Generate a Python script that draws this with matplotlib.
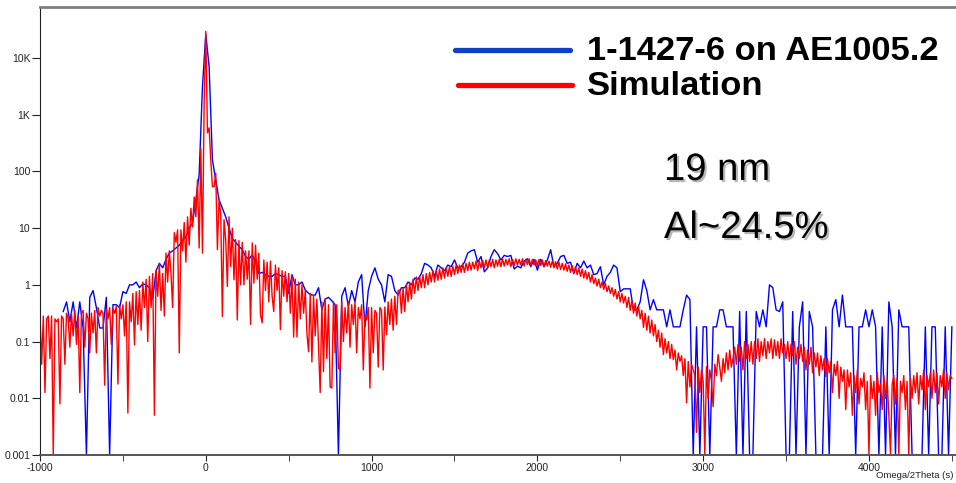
import numpy as np
import matplotlib
matplotlib.use('Agg')
import matplotlib.pyplot as plt
import matplotlib.patheffects as pe
from matplotlib.lines import Line2D
from matplotlib.ticker import FixedLocator, MultipleLocator

plt.rcParams['font.family'] = ['Liberation Sans', 'DejaVu Sans']

# measured scan, log10 of intensity, 20 arcsec steps from -860
meas_start, meas_step = -860, 20
meas_log = [
    -0.47, -0.30, -0.65, -0.30, -0.76, -0.30, -0.76, -3.00, -0.22, -0.10,
    -0.40, -0.76, -0.76, -0.22, -3.00, -0.35, -0.35, -0.40, -0.12, -0.15,
    0.00, 0.00, 0.05, -0.05, 0.02, 0.00, -0.05, -0.25, 0.25, 0.38,
    0.30, 0.45, 0.56, 0.60, 0.65, 0.70, 0.78, 0.85, 1.00, 1.09,
    1.50, 1.95, 3.50, 4.42, 3.85, 2.20, 1.85, 1.50, 1.35, 1.20,
    1.00, 0.82, 0.75, 0.68, 0.62, 0.50, 0.45, 0.53, 0.40, 0.20,
    0.22, 0.18, 0.15, 0.15, 0.20, 0.18, 0.15, 0.15, -0.15, 0.18,
    0.00, 0.00, 0.05, -0.09, -0.15, -0.18, -0.18, -0.05, -0.44, -0.25,
    -0.22, -0.28, -0.35, -3.00, -0.20, -0.05, -0.38, -0.10, -0.30, 0.05,
    0.18, -0.74, -0.10, 0.15, 0.30, 0.10, 0.00, -0.30, 0.18, 0.15,
    -0.10, -0.18, -0.05, -0.05, 0.05, 0.00, 0.12, 0.10, 0.20, 0.38,
    0.35, 0.30, 0.15, 0.35, 0.30, 0.25, 0.35, 0.32, 0.44, 0.30,
    0.32, 0.40, 0.56, 0.60, 0.62, 0.40, 0.50, 0.23, 0.30, 0.50,
    0.62, 0.55, 0.44, 0.52, 0.50, 0.52, 0.28, 0.33, 0.30, 0.42,
    0.46, 0.32, 0.45, 0.26, 0.45, 0.32, 0.44, 0.62, 0.32, 0.38,
    0.50, 0.52, 0.38, 0.40, 0.20, 0.38, 0.30, 0.42, 0.30, 0.35,
    0.18, 0.20, 0.32, 0.00, 0.15, 0.22, 0.35, 0.30, -0.12, -0.07,
    -0.07, -0.07, -0.44, -0.44, -0.30, 0.09, -0.10, -0.44, -0.26, -0.44,
    -0.44, -0.44, -0.74, -0.44, -0.74, -0.74, -0.74, -0.44, -0.18, -0.26,
    -3.00, -0.74, -3.00, -0.74, -0.74, -3.00, -0.74, -0.74, -0.44, -0.44,
    -0.74, -0.74, -0.74, -3.00, -0.47, -3.00, -0.47, -3.00, -3.00, -0.47,
    -0.74, -0.44, -0.74, 0.00, -0.05, -0.44, -0.47, -0.30, -3.00, -3.00,
    -0.47, -3.00, -0.74, -0.30, -3.00, -0.47, -0.74, -3.00, -3.00, -3.00,
    -0.74, -3.00, -0.44, -0.26, -0.74, -0.18, -0.74, -0.74, -0.74, -3.00,
    -0.74, -0.74, -0.44, -0.74, -0.44, -0.74, -3.00, -0.74, -3.00, -0.30,
    -0.74, -3.00, -0.44, -0.74, -0.74, -0.74, -3.00, -3.00, -3.00, -3.00,
    -0.74, -3.00, -0.74, -0.74, -3.00, -3.00, -0.74, -3.00, -0.74,
]

# simulation, log10 of intensity, 10 arcsec steps from -1000
sim_start, sim_step = -1000, 10
sim_log = [
    -0.50, -1.40, -0.55, -1.90, -0.60, -0.55, -1.30, -0.55, -3.00, -0.60,
    -0.65, -0.60, -2.10, -0.55, -0.60, -1.40, -0.50, -0.60, -1.10, -0.50,
    -0.90, -0.45, -1.05, -0.55, -1.90, -0.50, -0.45, -1.10, -0.50, -0.60,
    -1.20, -0.50, -0.85, -0.45, -1.20, -0.40, -0.55, -0.45, -0.50, -1.77,
    -0.42, -0.60, -0.40, -1.05, -0.42, -0.50, -0.38, -1.75, -0.35, -0.60,
    -0.35, -0.90, -0.30, -2.26, -0.30, -0.65, -0.15, -1.06, -0.12, -0.70,
    -0.10, -0.80, 0.05, -0.40, 0.10, -1.00, 0.15, -0.40, 0.20, -2.30,
    0.25, -0.20, 0.38, -0.45, 0.20, -0.55, 0.56, 0.05, 0.60, 0.20,
    -0.40, 0.92, 0.75, 0.97, -1.20, 0.97, 0.60, 1.10, 0.40, 1.20,
    0.70, 1.35, 1.02, 1.55, 1.20, 1.85, 0.65, 2.41, 0.56, 3.20,
    4.47, 2.68, 2.77, 2.20, 1.73, 1.73, 1.97, 0.62, 1.50, 1.25,
    -0.56, 1.15, 0.80, -0.03, 1.20, 0.32, 1.00, 0.09, 0.80, -0.62,
    0.78, 0.00, 0.75, 0.00, 0.60, 0.10, 0.60, -0.70, 0.74, 0.03,
    0.70, 0.10, 0.56, -0.53, -0.67, 0.44, -0.10, 0.40, -0.30, 0.42,
    -0.20, -0.47, 0.35, -0.10, 0.30, -0.79, 0.25, -0.20, 0.23, -0.30,
    0.20, -0.50, 0.15, -0.92, 0.10, -0.92, 0.05, -0.60, 0.00, -0.50,
    -0.10, -0.85, -1.18, -0.15, -1.36, -0.20, -0.90, -0.25, -1.10, -1.90,
    -0.30, -1.53, -0.25, -1.30, -0.35, -1.80, -1.82, -0.30, -1.20, -0.35,
    -1.47, -1.50, -0.30, -1.00, -0.40, -0.85, -0.30, -1.10, -0.35, -0.70,
    -0.30, -1.20, -0.40, -0.60, -0.35, -1.50, -0.55, -0.62, -0.40, -1.82,
    -0.40, -1.20, -0.45, -0.50, -1.45, -0.40, -0.45, -1.50, -0.39, -0.88,
    -0.30, -0.70, -0.25, -0.80, -0.20, -0.70, -0.10, -0.09, -0.50, -0.05,
    -0.47, 0.00, -0.30, 0.05, -0.25, 0.10, -0.15, 0.14, -0.10, 0.15,
    -0.05, 0.18, -0.05, 0.20, 0.00, 0.22, 0.05, 0.25, 0.05, 0.25,
    0.08, 0.28, 0.10, 0.30, 0.12, 0.30, 0.15, 0.32, 0.15, 0.33,
    0.18, 0.35, 0.20, 0.35, 0.22, 0.37, 0.22, 0.38, 0.25, 0.40,
    0.26, 0.40, 0.28, 0.42, 0.25, 0.42, 0.30, 0.43, 0.30, 0.44,
    0.30, 0.44, 0.32, 0.45, 0.30, 0.44, 0.33, 0.45, 0.32, 0.46,
    0.33, 0.45, 0.35, 0.46, 0.32, 0.45, 0.34, 0.46, 0.35, 0.45,
    0.35, 0.46, 0.33, 0.45, 0.36, 0.46, 0.34, 0.45, 0.35, 0.44,
    0.33, 0.45, 0.34, 0.44, 0.32, 0.43, 0.33, 0.42, 0.31, 0.42,
    0.30, 0.41, 0.28, 0.40, 0.27, 0.38, 0.26, 0.37, 0.24, 0.35,
    0.22, 0.34, 0.20, 0.32, 0.18, 0.30, 0.15, 0.28, 0.12, 0.25,
    0.10, 0.22, 0.05, 0.18, 0.02, 0.12, -0.02, 0.10, -0.05, 0.05,
    -0.08, 0.02, -0.12, -0.02, -0.15, -0.05, -0.20, -0.08, -0.25, -0.12,
    -0.30, -0.15, -0.32, -0.20, -0.40, -0.22, -0.45, -0.28, -0.50, -0.32,
    -0.55, -0.38, -0.60, -0.45, -0.75, -0.50, -0.80, -0.55, -0.85, -0.62,
    -0.90, -0.70, -1.00, -0.80, -1.10, -0.85, -1.23, -0.95, -1.20, -1.00,
    -1.30, -1.05, -1.32, -1.15, -1.50, -1.20, -1.35, -1.25, -1.60, -1.30,
    -2.08, -1.35, -1.80, -1.40, -1.50, -1.60, -2.60, -1.45, -1.90, -1.50,
    -1.70, -3.00, -1.44, -2.00, -1.50, -1.70, -2.15, -1.40, -1.60, -1.23,
    -1.45, -1.70, -1.30, -1.55, -1.20, -1.50, -1.15, -1.45, -1.30, -1.10,
    -1.40, -1.05, -1.35, -1.10, -1.50, -1.00, -1.30, -1.05, -1.35, -1.00,
    -1.40, -1.00, -1.30, -0.95, -1.35, -1.00, -1.25, -0.95, -1.30, -1.00,
    -1.20, -0.95, -1.30, -0.97, -1.25, -1.00, -1.30, -0.95, -1.20, -1.05,
    -1.30, -1.00, -1.35, -1.05, -1.25, -1.00, -1.40, -1.10, -1.30, -1.05,
    -1.35, -1.10, -1.50, -1.15, -1.40, -1.10, -1.55, -1.20, -1.45, -1.20,
    -1.60, -1.25, -1.50, -1.30, -1.62, -1.30, -1.55, -1.35, -1.90, -1.40,
    -1.60, -1.35, -2.00, -1.45, -1.70, -1.50, -2.20, -1.50, -1.80, -1.55,
    -2.30, -1.60, -1.90, -1.50, -2.10, -1.65, -1.80, -1.55, -2.20, -1.70,
    -3.00, -1.60, -2.00, -1.70, -2.30, -1.55, -1.90, -1.75, -2.20, -1.60,
    -2.00, -1.70, -2.30, -3.00, -1.75, -1.60, -2.10, -1.65, -3.00, -1.70,
    -1.90, -1.60, -2.20, -1.70, -3.00, -1.65, -2.00, -1.60, -1.90, -1.55,
    -2.10, -1.60, -1.85, -1.50, -2.20, -1.60, -1.80, -1.55, -2.00, -1.50,
    -1.90, -1.55, -2.10, -1.60, -1.80, -1.50, -2.00, -1.55, -1.85, -1.60,
    -1.65,
]

y_ticks = [1e-3, 1e-2, 1e-1, 1, 10, 100, 1e3, 1e4]
y_tick_labels = ['0.001', '0.01', '0.1', '1', '10', '100', '1K', '10K']
x_ticks = [-1000, 0, 1000, 2000, 3000, 4000]
x_title = 'Omega/2Theta (s)'
series_names = ['1-1427-6 on AE1005.2', 'Simulation']
notes = ['19 nm', 'Al~24.5%']

W, H = 956, 483


def fpos(x, y):
    # pixel position (from top-left) -> figure fraction
    return x / W, 1 - y / H


meas_x = meas_start + meas_step * np.arange(len(meas_log))
sim_x = sim_start + sim_step * np.arange(len(sim_log))
meas_y = 10 ** np.array(meas_log)
sim_y = 10 ** np.array(sim_log)

fig = plt.figure(figsize=(W / 100, H / 100), dpi=100)
ax = fig.add_axes([40 / W, 28 / H, 916 / W, 448 / H])

ax.plot(meas_x, meas_y, color='#0000ff', lw=1.0)
ax.plot(sim_x, sim_y, color='#ff0000', lw=1.0)

ax.set_yscale('log')
ax.set_xlim(-1000, 4525)
ax.set_ylim(1e-3, 10 ** 4.9)

ax.yaxis.set_major_locator(FixedLocator(y_ticks))
ax.yaxis.set_minor_locator(FixedLocator([]))
ax.set_yticklabels(y_tick_labels)
ax.xaxis.set_major_locator(FixedLocator(x_ticks))
ax.xaxis.set_minor_locator(MultipleLocator(500))
ax.set_xticklabels([str(v) for v in x_ticks])
ax.tick_params(axis='both', which='both', direction='out', labelsize=7.5,
               colors='#222222')
ax.tick_params(axis='y', length=6, pad=1)
ax.tick_params(axis='x', which='both', length=4, pad=2)

ax.spines['right'].set_visible(False)
ax.spines['top'].set_color('#808080')
ax.spines['top'].set_linewidth(2)
ax.spines['left'].set_color('#222222')
ax.spines['bottom'].set_color('#555555')
ax.spines['bottom'].set_linewidth(1.4)

fig.text(*fpos(954, 476), x_title, fontsize=6.8, va='center', ha='right',
         color='#222222')

# legend drawn by hand at the top right
leg_colors = ['#1040c8', '#ff0000']
leg_rows = [(455, 570, 50, 60), (458, 572, 85, 95)]
for (x0, x1, ly, base), name, c in zip(leg_rows, series_names, leg_colors):
    fig.add_artist(Line2D([x0 / W, x1 / W], [1 - ly / H, 1 - ly / H],
                          color=c, lw=3.8, solid_capstyle='round'))
    fig.text(*fpos(587, base), name, fontsize=24.8, fontweight='bold',
             va='baseline', ha='left', color='black')

shadow = [pe.withSimplePatchShadow(offset=(1.5, -1.5), shadow_rgbFace='#888888',
                                   alpha=0.6)]
for note, base in zip(notes, [180, 238]):
    fig.text(*fpos(664, base), note, fontsize=27.5, va='baseline', ha='left',
             color='black', path_effects=shadow)

fig.savefig('out.png', dpi=100)
